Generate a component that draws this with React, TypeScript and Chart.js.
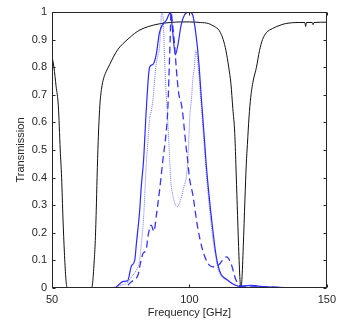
import React, { useEffect, useRef } from "react";
import { Chart, registerables } from "chart.js";

Chart.register(...registerables);

const xTicks = [50, 100, 150];
const yTickLabels = ["0", "0.1", "0.2", "0.3", "0.4", "0.5", "0.6", "0.7", "0.8", "0.9", "1"];

const blackFreq = [50, 50.7, 51.5, 52.3, 53, 53.5, 54, 54.5, 55, 55.4, 56, 60, 64.3, 64.8, 65.3, 65.7, 66.1, 66.4, 66.8, 67.4, 68, 68.8, 70, 71, 72.5, 74, 75.8, 78, 80, 82, 85, 89, 93, 97, 100, 104, 107, 109, 110.9, 112.3, 113.3, 114.3, 115.1, 115.8, 116.5, 116.9, 117.4, 117.9, 118.4, 118.7, 119.1, 119.6, 120.2, 120.7, 121.1, 121.7, 122.3, 123.2, 124.4, 125.5, 126.6, 128, 130.2, 133, 135, 140, 142, 142.3, 142.6, 144.7, 145, 145.3, 150];
const blackT = [0.84, 0.8, 0.73, 0.66, 0.5, 0.4, 0.25, 0.13, 0.04, 0.005, 0, 0, 0, 0.02, 0.09, 0.16, 0.28, 0.4, 0.53, 0.66, 0.72, 0.76, 0.79, 0.81, 0.84, 0.865, 0.885, 0.905, 0.922, 0.935, 0.947, 0.957, 0.962, 0.964, 0.964, 0.962, 0.958, 0.948, 0.932, 0.9, 0.86, 0.8, 0.74, 0.65, 0.56, 0.45, 0.3, 0.15, 0.03, 0, 0.03, 0.15, 0.32, 0.45, 0.52, 0.62, 0.69, 0.75, 0.8, 0.86, 0.9, 0.925, 0.94, 0.952, 0.958, 0.962, 0.962, 0.948, 0.962, 0.962, 0.954, 0.962, 0.963];

const solidFreq = [50, 73, 73.5, 75, 76, 77.5, 78.9, 80.1, 80.7, 81.9, 82.5, 83.3, 84.3, 85.5, 86.7, 87.9, 89.1, 90.3, 91.6, 92.5, 93.1, 93.9, 94.9, 95.8, 97, 98.2, 100, 101.2, 102.4, 103.4, 104.4, 105.3, 106.1, 107.1, 108.4, 109.6, 110.4, 111.5, 113.7, 116.7, 119, 122, 125, 130, 135, 150];
const solidT = [0, 0, 0.005, 0.018, 0.024, 0.026, 0.08, 0.1, 0.16, 0.28, 0.37, 0.46, 0.645, 0.8, 0.81, 0.845, 0.925, 0.955, 0.97, 0.99, 0.998, 0.929, 0.845, 0.88, 0.953, 0.989, 1.0, 0.989, 0.917, 0.82, 0.68, 0.56, 0.45, 0.34, 0.22, 0.125, 0.083, 0.05, 0.03, 0.01, 0.005, 0.01, 0.007, 0.003, 0.001, 0];

const dashedFreq = [50, 76.5, 77.1, 78.9, 80, 81.3, 82.2, 83.1, 84.3, 84.9, 86.1, 87.1, 87.9, 89.1, 90.3, 91.5, 92.1, 92.6, 93, 93.3, 93.9, 94.6, 95.2, 96.1, 97, 97.6, 98.2, 98.8, 99.4, 100, 101.2, 103, 104.8, 107.2, 109, 110.6, 112, 113.5, 115.1, 116.9, 118.7, 122, 126, 132, 150];
const dashedT = [0, 0, 0.005, 0.023, 0.03, 0.047, 0.09, 0.125, 0.14, 0.186, 0.228, 0.205, 0.258, 0.35, 0.46, 0.56, 0.64, 0.78, 0.9, 1.0, 0.953, 0.88, 0.8, 0.705, 0.67, 0.63, 0.57, 0.51, 0.46, 0.4, 0.34, 0.22, 0.138, 0.083, 0.076, 0.083, 0.1, 0.113, 0.09, 0.03, 0.007, 0.008, 0.005, 0.002, 0];

const dottedFreq = [50, 72, 75, 77.5, 78.9, 80.7, 81.9, 82.5, 83.3, 84.3, 84.9, 85.5, 86.2, 86.8, 87.3, 87.9, 88.6, 89.1, 89.5, 89.9, 90.5, 90.9, 91.3, 91.6, 92, 92.3, 92.6, 92.9, 93.2, 93.6, 94.7, 95.6, 96.8, 98, 99.2, 99.7, 100.2, 100.8, 101.2, 101.8, 102.3, 102.8, 103.4, 104.4, 105.3, 106.1, 107.1, 108.4, 109.6, 110.4, 111.5, 113.5, 116.9, 119, 125, 135, 150];
const dottedT = [0, 0.002, 0.01, 0.02, 0.04, 0.065, 0.1, 0.16, 0.25, 0.45, 0.53, 0.61, 0.645, 0.69, 0.75, 0.81, 0.845, 0.87, 0.93, 1.0, 0.97, 0.85, 0.75, 0.69, 0.63, 0.57, 0.51, 0.45, 0.39, 0.355, 0.307, 0.295, 0.32, 0.367, 0.43, 0.52, 0.63, 0.69, 0.754, 0.8, 0.86, 0.84, 0.78, 0.65, 0.53, 0.42, 0.31, 0.19, 0.11, 0.07, 0.045, 0.03, 0.01, 0.004, 0.005, 0.001, 0];

const pts = (xs: number[], ys: number[]) => xs.map((x, i) => ({ x, y: ys[i] }));

const AXIS_COLOR = "#262626";
const FONT = "'Liberation Sans', Arial, Helvetica, sans-serif";

const framePlugin = {
  id: "frame",
  afterDraw(chart: any) {
    const { ctx, chartArea, scales } = chart;
    const L = Math.round(chartArea.left) + 0.5;
    const R = Math.round(chartArea.right) - 0.5;
    const T = Math.round(chartArea.top) + 0.5;
    const B = Math.round(chartArea.bottom) - 0.5;
    ctx.save();
    ctx.strokeStyle = AXIS_COLOR;
    ctx.lineWidth = 1;
    ctx.strokeRect(L, T, R - L, B - T);
    const tl = 3;
    ctx.beginPath();
    yTickLabels.forEach((_, i) => {
      const py = Math.round(scales.y.getPixelForValue(i / 10)) + 0.5;
      ctx.moveTo(L, py);
      ctx.lineTo(L + tl, py);
      ctx.moveTo(R, py);
      ctx.lineTo(R - tl, py);
    });
    xTicks.forEach((v) => {
      const px = Math.round(scales.x.getPixelForValue(v)) + 0.5;
      ctx.moveTo(px, B);
      ctx.lineTo(px, B - tl);
      ctx.moveTo(px, T);
      ctx.lineTo(px, T + tl);
    });
    ctx.stroke();
    ctx.restore();
  },
};

export default function App() {
  const ref = useRef<HTMLCanvasElement | null>(null);
  useEffect(() => {
    if (!ref.current) return;
    const line = { pointRadius: 0, cubicInterpolationMode: "monotone" as const };
    const chart = new Chart(ref.current, {
      type: "line",
      data: {
        datasets: [
          {
            ...line,
            data: pts(solidFreq, solidT),
            borderColor: "#2a2aff",
            borderWidth: 1.2,
          },
          {
            ...line,
            data: pts(dashedFreq, dashedT),
            borderColor: "#3535ff",
            borderWidth: 1.3,
            borderDash: [7, 4],
          },
          {
            ...line,
            data: pts(dottedFreq, dottedT),
            borderColor: "#7272ff",
            borderWidth: 1,
            borderDash: [1, 1],
          },
          {
            ...line,
            data: pts(blackFreq, blackT),
            borderColor: "#111111",
            borderWidth: 1,
          },
        ],
      },
      options: {
        responsive: false,
        animation: false,
        devicePixelRatio: 1,
        layout: { padding: { left: 0, top: 12, right: 13, bottom: 0 } },
        plugins: { legend: { display: false }, tooltip: { enabled: false } },
        scales: {
          x: {
            type: "linear",
            min: 50,
            max: 150,
            afterBuildTicks: (s: any) => {
              s.ticks = xTicks.map((v) => ({ value: v }));
            },
            afterFit: (s: any) => {
              s.height = 40;
            },
            grid: { display: false, drawTicks: false },
            border: { display: false },
            ticks: {
              color: AXIS_COLOR,
              font: { family: FONT, size: 11 },
              padding: 5,
              maxRotation: 0,
              autoSkip: false,
            },
            title: {
              display: true,
              text: "Frequency [GHz]",
              color: AXIS_COLOR,
              font: { family: FONT, size: 11 },
              padding: { top: 0, bottom: 8 },
            },
          },
          y: {
            type: "linear",
            min: 0,
            max: 1,
            afterBuildTicks: (s: any) => {
              s.ticks = yTickLabels.map((_, i) => ({ value: i / 10 }));
            },
            afterFit: (s: any) => {
              s.width = 52;
            },
            grid: { display: false, drawTicks: false },
            border: { display: false },
            ticks: {
              color: AXIS_COLOR,
              font: { family: FONT, size: 11 },
              padding: 5,
              autoSkip: false,
              callback: (_v: any, i: number) => yTickLabels[i],
            },
            title: {
              display: true,
              text: "Transmission",
              color: AXIS_COLOR,
              font: { family: FONT, size: 11 },
              padding: { top: 14, bottom: 0 },
            },
          },
        },
      },
      plugins: [framePlugin],
    });
    return () => chart.destroy();
  }, []);
  return (
    <div style={{ position: "fixed", left: 0, top: 0, width: 341, height: 328, background: "#fff" }}>
      <canvas ref={ref} width={341} height={328} style={{ display: "block" }} />
    </div>
  );
}
